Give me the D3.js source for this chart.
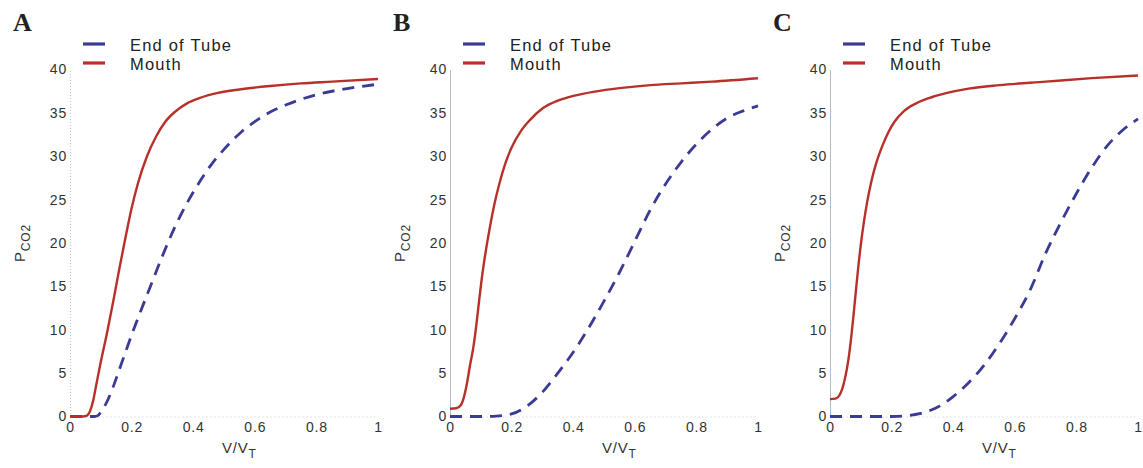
<!DOCTYPE html>
<html>
<head>
<meta charset="utf-8">
<script src="https://cdn.jsdelivr.net/npm/d3@7"></script>
<style>
  body { margin: 0; background: #fff; }
</style>
</head>
<body>
<script>
//Three panels of PCO2 against V/VT, end of tube (dashed) and mouth (solid)

//Declares global variables
var W = 1143;
var H = 468;
var SANS = "Arial, 'Liberation Sans', sans-serif";
var SERIF = "'Times New Roman', 'Liberation Serif', serif";

//Tick values shared by the panels
var xTicks = [0, 0.2, 0.4, 0.6, 0.8, 1];
var yTicks = [0, 5, 10, 15, 20, 25, 30, 35, 40];
var panelNames = ["A", "B", "C"];
var seriesNames = ["End of Tube", "Mouth"];

//Curves, [V/VT, PCO2]
var tubeA = [[0,0],[0.05,0],[0.08,0],[0.09,0.1],[0.1,0.5],[0.12,1.7],[0.14,3.4],[0.16,5.4],
  [0.18,7.4],[0.2,9.4],[0.23,12.2],[0.26,14.9],[0.3,18.5],[0.34,21.8],[0.38,24.6],[0.42,27],
  [0.46,29.1],[0.5,30.8],[0.55,32.6],[0.6,34],[0.65,35.1],[0.7,35.9],[0.8,37.1],[0.9,37.8],[1,38.3]];
var mouthA = [[0,0],[0.04,0],[0.055,0.1],[0.065,0.6],[0.075,1.8],[0.085,3.6],[0.1,6.3],
  [0.12,9.6],[0.14,13.2],[0.16,17],[0.18,20.6],[0.2,24],[0.22,26.8],[0.25,30],[0.28,32.3],
  [0.31,34],[0.34,35.1],[0.38,36.1],[0.42,36.7],[0.48,37.3],[0.55,37.7],[0.65,38.1],
  [0.75,38.4],[0.85,38.6],[1,38.9]];

var tubeB = [[0,0],[0.1,0],[0.15,0.05],[0.2,0.3],[0.25,1.2],[0.3,2.8],[0.35,5],[0.4,7.4],
  [0.45,10.2],[0.5,13.3],[0.55,16.6],[0.6,20.2],[0.65,23.8],[0.7,26.8],[0.75,29.3],[0.8,31.4],
  [0.85,33.1],[0.9,34.4],[0.95,35.2],[1,35.8]];
var mouthB = [[0,0.9],[0.02,0.95],[0.035,1.3],[0.045,2.2],[0.055,3.8],[0.065,5.9],[0.075,7.8],
  [0.085,10.4],[0.095,13.5],[0.105,16.4],[0.115,18.8],[0.13,21.9],[0.145,24.6],[0.16,26.8],
  [0.18,29.2],[0.2,31],[0.23,32.9],[0.26,34.2],[0.3,35.5],[0.35,36.4],[0.4,36.95],[0.47,37.45],
  [0.55,37.85],[0.65,38.2],[0.75,38.4],[0.85,38.6],[1,39]];

var tubeC = [[0,0],[0.2,0],[0.25,0.1],[0.3,0.4],[0.35,1.1],[0.4,2.3],[0.45,3.9],[0.5,5.9],
  [0.55,8.4],[0.6,11.3],[0.65,14.6],[0.7,18.8],[0.75,22.4],[0.8,25.7],[0.85,28.7],[0.9,31.2],
  [0.95,33],[1,34.3]];
var mouthC = [[0,2],[0.02,2.1],[0.03,2.4],[0.04,3.2],[0.05,4.6],[0.06,6.6],[0.07,9.5],
  [0.08,13],[0.09,16.6],[0.1,19.8],[0.11,22.4],[0.12,24.6],[0.135,27.2],[0.15,29.2],
  [0.17,31.2],[0.19,32.8],[0.21,34],[0.24,35.2],[0.28,36.1],[0.33,36.8],[0.38,37.3],
  [0.45,37.8],[0.55,38.2],[0.7,38.6],[0.85,39],[1,39.3]];

var tubes = [tubeA, tubeB, tubeC];
var mouths = [mouthA, mouthB, mouthC];

//Left edge of each panel's plot area
var panelLeft = [70, 450, 830];
var plotW = 308;
var yTop = 69.5;
var yBottom = 416.5;

var blue = "#3b3b95";
var red = "#b8302a";

function main() {
  var svg = d3.select("body")
    .append("svg")
    .attr("width", W)
    .attr("height", H);

  for (var i = 0; i < 3; i++) {
    drawPanel(svg, i);
  }
}

function drawPanel(svg, i) {
  var x0 = panelLeft[i];
  var xScale = d3.scaleLinear().domain([0, 1]).range([x0, x0 + plotW]);
  var yScale = d3.scaleLinear().domain([0, 40]).range([yBottom, yTop]);

  //Axes, no tick marks, light lines
  var xAxis = d3.axisBottom(xScale)
    .tickValues(xTicks)
    .tickFormat(function(d) { return String(d); })
    .tickSize(0)
    .tickPadding(6);
  var yAxis = d3.axisLeft(yScale)
    .tickValues(yTicks)
    .tickSize(0)
    .tickPadding(3);

  var gx = svg.append("g")
    .attr("transform", "translate(0," + yBottom + ")")
    .call(xAxis);
  gx.select(".domain")
    .attr("stroke", "#c8c8c8")
    .attr("stroke-dasharray", "1,3");

  var gy = svg.append("g")
    .attr("transform", "translate(" + x0 + ",0)")
    .call(yAxis);
  gy.select(".domain")
    .attr("stroke", i == 0 ? "#c8c8c8" : "#b4bccb")
    .attr("stroke-dasharray", i == 0 ? "1,2" : null);

  svg.selectAll("g.tick text")
    .style("font-family", SANS)
    .style("font-size", "14px")
    .style("letter-spacing", "0.8px")
    .attr("fill", "#333");

  //Lines
  var line = d3.line()
    .x(function(d) { return xScale(d[0]); })
    .y(function(d) { return yScale(d[1]); })
    .curve(d3.curveMonotoneX);

  svg.append("path")
    .datum(tubes[i])
    .attr("d", line)
    .attr("fill", "none")
    .attr("stroke", blue)
    .attr("stroke-width", 2.8)
    .attr("stroke-dasharray", "12,8");

  svg.append("path")
    .datum(mouths[i])
    .attr("d", line)
    .attr("fill", "none")
    .attr("stroke", red)
    .attr("stroke-width", 2.4);

  //Panel letter
  svg.append("text")
    .attr("x", x0 - 57)
    .attr("y", 31)
    .style("font-family", SERIF)
    .style("font-weight", "bold")
    .style("font-size", "26px")
    .attr("fill", "#222")
    .text(panelNames[i]);

  //Legend
  var colors = [blue, red];
  var legY = [44, 63];
  for (var k = 0; k < 2; k++) {
    svg.append("line")
      .attr("x1", x0 + 13)
      .attr("x2", x0 + 35)
      .attr("y1", legY[k])
      .attr("y2", legY[k])
      .attr("stroke", colors[k])
      .attr("stroke-width", 3.2);
    svg.append("text")
      .attr("x", x0 + 60)
      .attr("y", legY[k] + 6.5)
      .style("font-family", SANS)
      .style("font-size", "16.5px")
      .style("letter-spacing", "1.2px")
      .attr("fill", "#222")
      .text(seriesNames[k]);
  }

  //Axis titles
  var xt = svg.append("text")
    .attr("x", x0 + plotW * 0.55)
    .attr("y", 453)
    .attr("text-anchor", "middle")
    .style("font-family", SANS)
    .style("font-size", "15px")
    .style("letter-spacing", "0.8px")
    .attr("fill", "#333");
  xt.append("tspan").text("V/V");
  xt.append("tspan").style("font-size", "12px").attr("dy", 5).text("T");

  var yt = svg.append("text")
    .attr("transform", "translate(" + (x0 - 45) + ",243) rotate(-90)")
    .attr("text-anchor", "middle")
    .style("font-family", SANS)
    .style("font-size", "15px")
    .style("letter-spacing", "0.8px")
    .attr("fill", "#333");
  yt.append("tspan").text("P");
  yt.append("tspan").style("font-size", "12px").attr("dy", 5).text("CO2");
}

main();
</script>
</body>
</html>
